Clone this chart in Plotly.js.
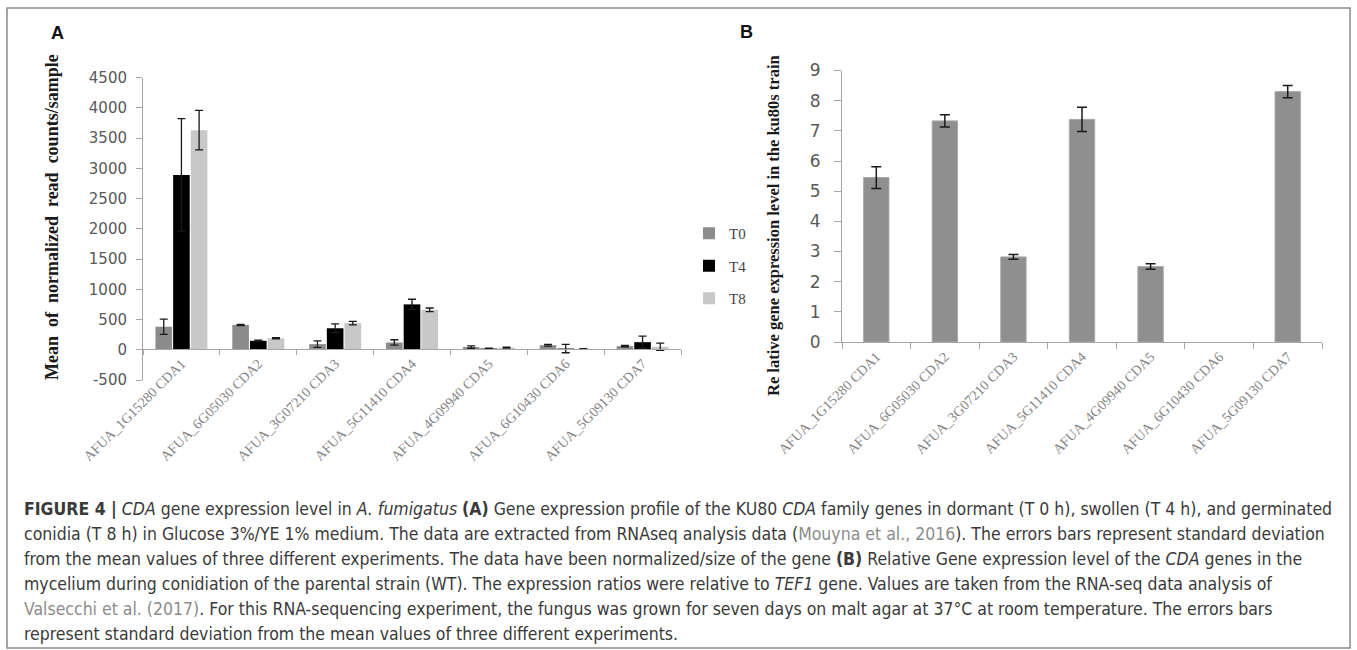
<!DOCTYPE html>
<html>
<head>
<meta charset="utf-8">
<script src="https://cdn.plot.ly/plotly-3.0.1.min.js"></script>
<style>
html, body { margin: 0; padding: 0; background: #ffffff; }
#chart { width: 1357px; height: 650px; }
</style>
</head>
<body>
<div id="chart"></div>
<script>
// ---------- data ----------
const genes = ["AFUA_1G15280 CDA1", "AFUA_6G05030 CDA2", "AFUA_3G07210 CDA3", "AFUA_5G11410 CDA4",
               "AFUA_4G09940 CDA5", "AFUA_6G10430 CDA6", "AFUA_5G09130 CDA7"];
const seriesNames = ["T0", "T4", "T8"];
const t0Values = [380, 410, 93, 120, 45, 75, 60];
const t0Errors = [125, 10, 55, 45, 20, 15, 10];
const t4Values = [2890, 148, 355, 750, 20, 20, 125];
const t4Errors = [930, 10, 72, 85, 5, 70, 100];
const t8Values = [3630, 190, 440, 660, 35, 15, 50];
const t8Errors = [325, 8, 30, 30, 8, 5, 60];
const relExpression = [5.45, 7.33, 2.82, 7.38, 2.5, null, 8.3];
const relErrors = [0.36, 0.2, 0.08, 0.4, 0.09, null, 0.2];
const yTicksA = [-500, 0, 500, 1000, 1500, 2000, 2500, 3000, 3500, 4000, 4500];
const yTicksB = [0, 1, 2, 3, 4, 5, 6, 7, 8, 9];

const captionLines = [
  "<b>FIGURE 4 |</b> <i>CDA</i> gene expression level in <i>A. fumigatus</i> <b>(A)</b> Gene expression profile of the KU80 <i>CDA</i> family genes in dormant (T 0 h), swollen (T 4 h), and germinated",
  "conidia (T 8 h) in Glucose 3%/YE 1% medium. The data are extracted from RNAseq analysis data (<span style='color:#8c8c8c'>Mouyna et al., 2016</span>). The errors bars represent standard deviation",
  "from the mean values of three different experiments. The data have been normalized/size of the gene <b>(B)</b> Relative Gene expression level of the <i>CDA</i> genes in the",
  "mycelium during conidiation of the parental strain (WT). The expression ratios were relative to <i>TEF1</i> gene. Values are taken from the RNA-seq data analysis of",
  "<span style='color:#8c8c8c'>Valsecchi et al. (2017)</span>. For this RNA-sequencing experiment, the fungus was grown for seven days on malt agar at 37°C at room temperature. The errors bars",
  "represent standard deviation from the mean values of three different experiments."
];

// ---------- helpers (pixel -> paper) ----------
const W = 1357, H = 650;
const fx = x => x / W;
const fy = y => 1 - y / H;

const serif = "Liberation Serif, Times New Roman, serif";
const sansTick = "DejaVu Sans, Verdana, sans-serif";
const captionFont = "DejaVu Sans Condensed, Liberation Sans Narrow, Arial Narrow, sans-serif";
const axisGray = "#a6a6a6";

const colorsA = ["#8c8c8c", "#000000", "#c8c8c8"];
const valsA = [t0Values, t4Values, t8Values];
const errsA = [t0Errors, t4Errors, t8Errors];

const traces = seriesNames.map((nm, i) => ({
  type: "bar",
  name: nm,
  x: genes,
  y: valsA[i],
  xaxis: "x",
  yaxis: "y",
  legendgroup: "g" + i,
  marker: { color: colorsA[i], line: { width: 0 } },
  error_y: { type: "data", array: errsA[i], visible: true, color: "#1a1a1a", thickness: 1.3, width: 4 }
}));

traces.push({
  type: "bar",
  name: "Relative expression",
  x: genes,
  y: relExpression,
  xaxis: "x2",
  yaxis: "y2",
  width: 0.37,
  offset: -0.185,
  showlegend: false,
  marker: { color: "#8f8f8f", line: { color: "#a9a9a9", width: 1 } },
  error_y: { type: "data", array: relErrors, visible: true, color: "#1a1a1a", thickness: 1.5, width: 5 }
});

const catTickFont = { family: serif, size: 14, color: "#858585" };

const annotations = [
  { text: "<b>A</b>", x: fx(57), y: fy(33), font: { family: "Liberation Sans, Arial, sans-serif", size: 18, color: "#111" } },
  { text: "<b>B</b>", x: fx(746), y: fy(32), font: { family: "Liberation Sans, Arial, sans-serif", size: 18, color: "#111" } },
  { text: "<b>Mean  of  normalized  read  counts/sample</b>", x: fx(52), y: fy(217), textangle: -90,
    font: { family: serif, size: 18, color: "#1a1a1a" } },
  { text: "<b>Re lative gene expression level in the ku80s train</b>", x: fx(773), y: fy(226), textangle: -90,
    font: { family: serif, size: 16.5, color: "#1a1a1a" } }
].map(a => Object.assign({ xref: "paper", yref: "paper", showarrow: false, xanchor: "center", yanchor: "middle" }, a));

captionLines.forEach((t, i) => {
  annotations.push({
    text: t, xref: "paper", yref: "paper", x: fx(22), y: fy(509 + 25 * i),
    xanchor: "left", yanchor: "middle", align: "left", showarrow: false,
    font: { family: captionFont, size: 17.5, color: "#3a3a3a" }
  });
});

const layout = {
  width: W, height: H,
  margin: { l: 0, r: 0, t: 0, b: 0, pad: 0 },
  paper_bgcolor: "#ffffff",
  plot_bgcolor: "rgba(0,0,0,0)",
  barmode: "group",
  bargap: 0.31,
  bargroupgap: 0.06,
  showlegend: true,
  legend: {
    x: fx(689), y: fy(217), xanchor: "left", yanchor: "top",
    font: { family: serif, size: 15, color: "#444" },
    tracegroupgap: 10, bgcolor: "rgba(0,0,0,0)", itemclick: false
  },
  xaxis: {
    domain: [fx(143), fx(681)], anchor: "free", position: fy(349),
    type: "category", showline: true, linecolor: axisGray, linewidth: 1,
    ticks: "outside", tickson: "boundaries", ticklen: 5, tickcolor: axisGray,
    tickangle: -45, tickfont: catTickFont, showgrid: false, zeroline: false, fixedrange: true
  },
  yaxis: {
    domain: [fy(380), fy(77.5)], anchor: "x", range: [-500, 4500],
    tickmode: "array", tickvals: yTicksA, ticktext: yTicksA.map(String),
    showline: true, linecolor: axisGray, linewidth: 1,
    ticks: "outside", ticklen: 6, tickcolor: axisGray, ticklabelstandoff: 6,
    tickfont: { family: sansTick, size: 15, color: "#595959" },
    showgrid: false, zeroline: false, fixedrange: true
  },
  xaxis2: {
    domain: [fx(842), fx(1322)], anchor: "y2",
    type: "category", showline: true, linecolor: axisGray, linewidth: 1,
    ticks: "outside", tickson: "boundaries", ticklen: 6, tickcolor: axisGray,
    tickangle: -45, tickfont: catTickFont, showgrid: false, zeroline: false, fixedrange: true
  },
  yaxis2: {
    domain: [fy(342), fy(70.5)], anchor: "x2", range: [0, 9],
    tickmode: "array", tickvals: yTicksB, ticktext: yTicksB.map(String),
    showline: true, linecolor: axisGray, linewidth: 1,
    ticks: "outside", ticklen: 7, tickcolor: axisGray, ticklabelstandoff: 10,
    tickfont: { family: sansTick, size: 17, color: "#595959" },
    showgrid: false, zeroline: false, fixedrange: true
  },
  annotations: annotations,
  shapes: [
    { type: "rect", xref: "paper", yref: "paper", x0: fx(7), x1: fx(1350), y0: fy(648), y1: fy(8),
      line: { color: "#8a8a8a", width: 1.5 }, fillcolor: "rgba(0,0,0,0)", layer: "below" }
  ]
};

Plotly.newPlot("chart", traces, layout, { displayModeBar: false, staticPlot: true });
</script>
</body>
</html>
